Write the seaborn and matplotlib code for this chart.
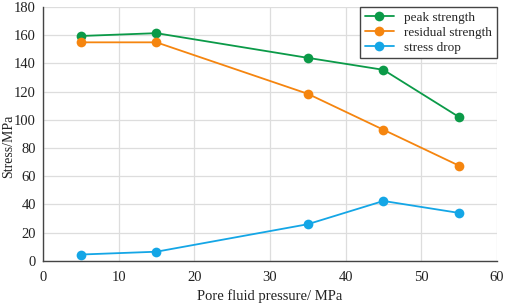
import matplotlib
matplotlib.use("Agg")
import matplotlib.pyplot as plt
import seaborn as sns
import pandas as pd

pressure = [5, 15, 35, 45, 55]
peak_strength = [159.5, 161.5, 144, 135.5, 102]
residual_strength = [155, 155, 118.5, 93, 67.5]
stress_drop = [4.5, 6.5, 26, 42.5, 34]
series_names = ["peak strength", "residual strength", "stress drop"]
colors = ["#0b9a48", "#f5850f", "#14a6e6"]

df = pd.DataFrame({
    "x": pressure * 3,
    "y": peak_strength + residual_strength + stress_drop,
    "series": [series_names[0]] * 5 + [series_names[1]] * 5 + [series_names[2]] * 5,
})

sns.set_theme(style="whitegrid")
plt.rcParams["font.family"] = ["Liberation Serif", "DejaVu Serif"]

fig = plt.figure(figsize=(5.05, 3.08), dpi=100)
ax = fig.add_axes([0.085, 0.153, 0.899, 0.824])
sns.lineplot(data=df, x="x", y="y", hue="series", hue_order=series_names,
             palette=colors, marker="o", markersize=7, markeredgewidth=0,
             linewidth=1.3, ax=ax)

ax.set_xlim(0, 60)
ax.set_ylim(0, 180)
ax.set_xticks(range(0, 61, 10))
ax.set_yticks(range(0, 181, 20))
ax.tick_params(axis="both", length=0, labelsize=10.5, colors="#222222")
ax.tick_params(axis="x", pad=7)
ax.tick_params(axis="y", pad=5)
ax.grid(True, color="#dddddd", linewidth=0.9)
for s in ["top", "right"]:
    ax.spines[s].set_visible(False)
for s in ["left", "bottom"]:
    ax.spines[s].set_color("#444444")
    ax.spines[s].set_linewidth(1.0)
ax.set_xlabel("Pore fluid pressure/ MPa", fontsize=10.5, color="#222222", labelpad=4)
ax.set_ylabel("Stress/MPa", fontsize=10, color="#222222")
ax.yaxis.set_label_coords(-0.062, 0.45)

leg = ax.legend(loc="upper right", fontsize=9.5, frameon=True, fancybox=False,
                borderaxespad=0.0, handlelength=2.2, labelspacing=0.2,
                borderpad=0.35)
leg.get_frame().set_edgecolor("#444444")
leg.get_frame().set_linewidth(1.0)
leg.get_frame().set_alpha(1)

fig.savefig("out.png", dpi=100)
